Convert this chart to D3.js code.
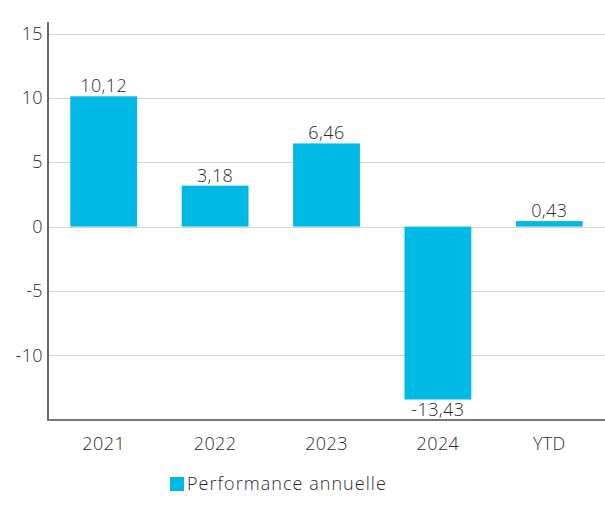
<!DOCTYPE html>
<html>
<head>
<meta charset="utf-8">
<script src="https://cdn.jsdelivr.net/npm/d3@7"></script>
<style>
  html, body { margin: 0; padding: 0; background: #fff; }
  svg { display: block; }
  text { font-family: "Open Sans", Lato, sans-serif; font-weight: 300; fill: #2b2b2b; }
</style>
</head>
<body>
<svg id="chart" width="605" height="506"></svg>
<script>
// Annual performance data
const categories = ["2021", "2022", "2023", "2024", "YTD"];
const values = [10.12, 3.18, 6.46, -13.43, 0.43];
const yTicks = [-10, -5, 0, 5, 10, 15];
const seriesName = "Performance annuelle";

const width = 605, height = 506;
const plot = { left: 48, right: 605, top: 22, bottom: 420 };
const barColor = "#00B9E4";
const fontSize = "18px";

const svg = d3.select("#chart");

const x = d3.scaleBand()
  .domain(categories)
  .range([plot.left, plot.right])
  .paddingInner(0.4)
  .paddingOuter(0.2);

const y = d3.scaleLinear()
  .domain([-15, 15])
  .range([419.7, 33.5]);

const fmt = v => d3.format(".2f")(v).replace("\u2212", "-").replace(".", ",");

function styleText(sel, spacing = "0.4px") {
  sel.style("font-size", fontSize)
    .style("fill", "#2b2b2b")
    .style("font-family", "'Open Sans', Lato, sans-serif")
    .style("font-weight", 300)
    .style("letter-spacing", spacing);
}

// Horizontal gridlines
svg.append("g")
  .selectAll("line")
  .data(yTicks)
  .join("line")
  .attr("x1", plot.left)
  .attr("x2", plot.right)
  .attr("y1", d => Math.round(y(d)) + 0.5)
  .attr("y2", d => Math.round(y(d)) + 0.5)
  .attr("stroke", "#d6d6d6")
  .attr("stroke-width", 1.2);

// Y axis tick labels
const yAxis = d3.axisLeft(y)
  .tickValues(yTicks)
  .tickSize(0)
  .tickPadding(5)
  .tickFormat(d => String(d));
const gy = svg.append("g")
  .attr("transform", `translate(${plot.left},0)`)
  .call(yAxis);
gy.select(".domain").remove();
gy.selectAll("text").call(styleText);

// Bars
svg.append("g")
  .selectAll("rect")
  .data(categories.map((c, i) => ({ c, v: values[i] })))
  .join("rect")
  .attr("x", d => x(d.c))
  .attr("width", x.bandwidth())
  .attr("y", d => y(Math.max(0, d.v)))
  .attr("height", d => Math.abs(y(d.v) - y(0)))
  .attr("fill", barColor);

// Value labels
svg.append("g")
  .selectAll("text")
  .data(categories.map((c, i) => ({ c, v: values[i] })))
  .join("text")
  .attr("x", d => x(d.c) + x.bandwidth() / 2)
  .attr("y", d => d.v >= 0 ? y(d.v) - 4 : y(d.v) + 17)
  .attr("text-anchor", "middle")
  .call(styleText)
  .text(d => fmt(d.v));

// Axis lines
svg.append("line")
  .attr("x1", plot.left).attr("x2", plot.left)
  .attr("y1", plot.top).attr("y2", plot.bottom + 1)
  .attr("stroke", "#666").attr("stroke-width", 2);
svg.append("line")
  .attr("x1", plot.left - 1).attr("x2", plot.right)
  .attr("y1", plot.bottom).attr("y2", plot.bottom)
  .attr("stroke", "#777").attr("stroke-width", 2);

// X axis labels
const xAxis = d3.axisBottom(x).tickSize(0).tickPadding(17);
const gx = svg.append("g")
  .attr("transform", `translate(0,${plot.bottom})`)
  .call(xAxis);
gx.select(".domain").remove();
gx.selectAll("text").call(styleText);

// Legend
const legend = svg.append("g").attr("transform", "translate(170,477)");
legend.append("rect")
  .attr("width", 14).attr("height", 14)
  .attr("fill", barColor);
legend.append("text")
  .attr("x", 17).attr("y", 13)
  .call(styleText, "1.05px")
  .text(seriesName);
</script>
</body>
</html>
